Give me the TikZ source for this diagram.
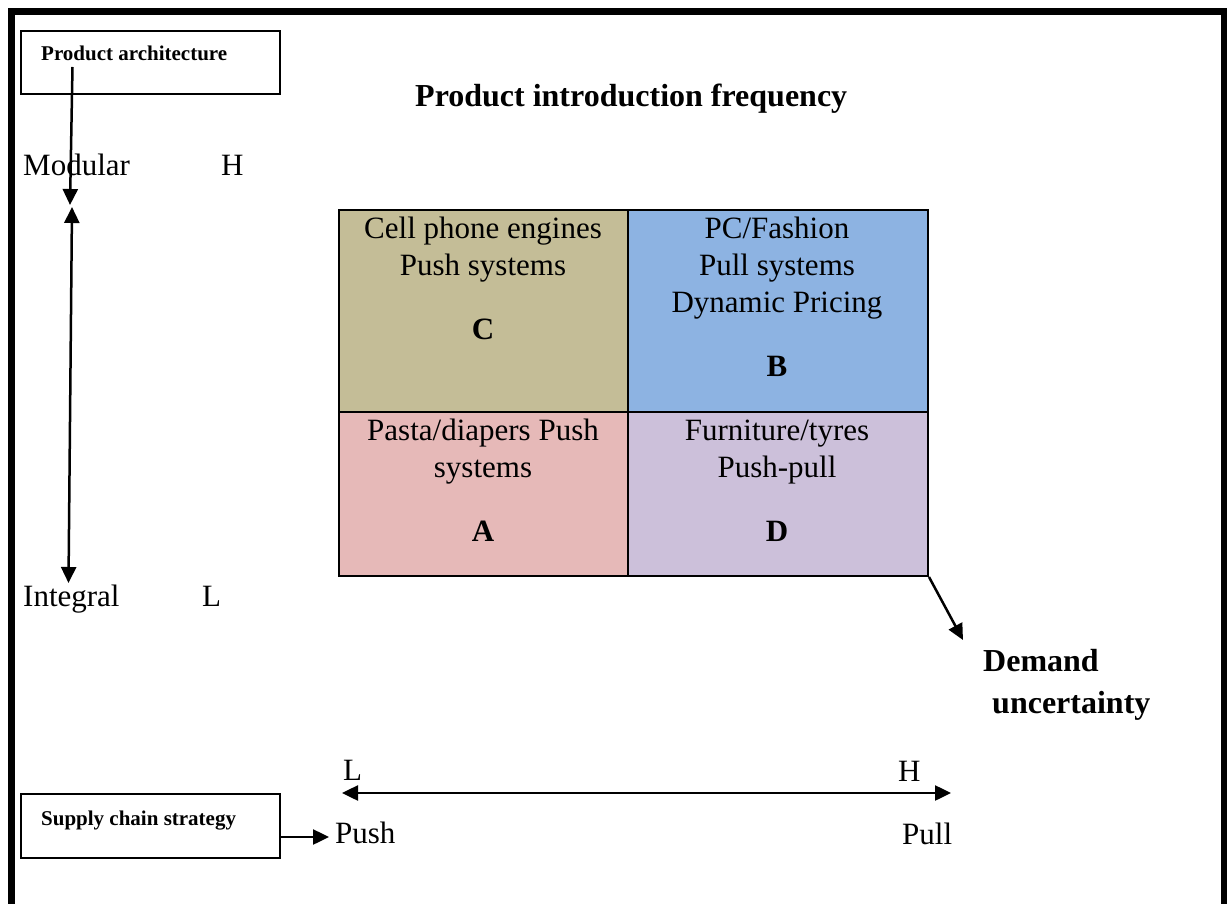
\documentclass[tikz,border=0pt]{standalone}
\usepackage{fontspec}
\setmainfont{Liberation Serif}
\usetikzlibrary{arrows.meta}

\definecolor{cellC}{HTML}{C4BD97}
\definecolor{cellB}{HTML}{8DB3E2}
\definecolor{cellA}{HTML}{E6B9B8}
\definecolor{cellD}{HTML}{CCC0DA}

\tikzset{
  lbl/.style={inner sep=0pt, anchor=base west, font=\fontsize{31}{37}\selectfont},
  boldlbl/.style={lbl, font=\fontsize{32}{42}\selectfont\bfseries},
  smallbold/.style={inner sep=0pt, anchor=base west, font=\fontsize{21}{25}\selectfont\bfseries},
  labelbox/.style={draw, line width=1.8pt, inner sep=0pt, anchor=north west,
                   minimum width=259pt, minimum height=63pt},
  cell/.style={draw, line width=2pt, inner sep=0pt, anchor=north west},
  celltext/.style={inner sep=0pt, anchor=north, align=center,
                   font=\fontsize{31}{37}\selectfont},
  arr/.style={line width=2.5pt, -{Triangle[length=16pt,width=15pt]}},
  dblarr/.style={line width=2.5pt, {Triangle[length=16pt,width=15pt]}-{Triangle[length=16pt,width=15pt]}},
}

\begin{document}
\begin{tikzpicture}[x=1pt, y=-1pt]
  \useasboundingbox (0,0) rectangle (1227,904);

  % outer frame (open at the bottom)
  \draw[line width=6.5pt, line join=miter] (11.5,910) -- (11.5,11.5) -- (1224.5,11.5) -- (1224.5,910);

  % heading
  \node[boldlbl] (title) at (415,107) {Product introduction frequency};

  % product architecture axis
  \node[labelbox] (pabox) at (20,30) {};
  \node[smallbold] (patext) at (41,61) {Product architecture};
  \node[lbl] (modular) at (23,176) {Modular};
  \node[lbl] (hiL) at (221,176) {H};
  \node[lbl] (integral) at (23,606) {Integral};
  \node[lbl] (loL) at (202,606) {L};

  \coordinate (pastart) at (72.5,67);
  \coordinate (paend) at (70,205);
  \coordinate (axtop) at (72,207);
  \coordinate (axbot) at (68.5,583);
  \draw[arr] (pastart) -- (paend);
  \draw[dblarr] (axtop) -- (axbot);

  % the four quadrants
  \node[cell, fill=cellC, minimum width=289pt, minimum height=202pt] (qC) at (338,209) {};
  \node[cell, fill=cellB, minimum width=300pt, minimum height=202pt] (qB) at (627,209) {};
  \node[cell, fill=cellA, minimum width=289pt, minimum height=164pt] (qA) at (338,411) {};
  \node[cell, fill=cellD, minimum width=300pt, minimum height=164pt] (qD) at (627,411) {};

  \node[celltext] (tC) at (483,212.1) {\strut Cell phone engines\\Push systems\\[27pt]\textbf{C}};
  \node[celltext] (tB) at (777,212.1) {\strut PC/Fashion\\Pull systems\\Dynamic Pricing\\[27pt]\textbf{B}};
  \node[celltext] (tA) at (483,414.1) {\strut Pasta/diapers Push\\systems\\[27pt]\textbf{A}};
  \node[celltext] (tD) at (777,414.1) {\strut Furniture/tyres\\Push-pull\\[27pt]\textbf{D}};

  % demand uncertainty
  \coordinate (dutip) at (963,640);
  \draw[arr] (qD.south east) -- (dutip);
  \node[boldlbl] (demand) at (983,671) {Demand};
  \node[boldlbl] (uncert) at (992,713) {uncertainty};

  % supply chain strategy axis
  \node[lbl] (botL) at (343,780) {L};
  \node[lbl] (botH) at (898,781) {H};
  \coordinate (scleft) at (342,793);
  \coordinate (scright) at (951,793);
  \draw[dblarr] (scleft) -- (scright);
  \node[lbl] (push) at (335,843) {Push};
  \node[lbl] (pull) at (902,844) {Pull};

  \node[labelbox, minimum height=64pt] (scbox) at (20,793) {};
  \node[smallbold] (sctext) at (41,825) {Supply chain strategy};
  \coordinate (pushtip) at (329,837);
  \draw[arr] (scbox.east |- pushtip) -- (pushtip);
\end{tikzpicture}
\end{document}
